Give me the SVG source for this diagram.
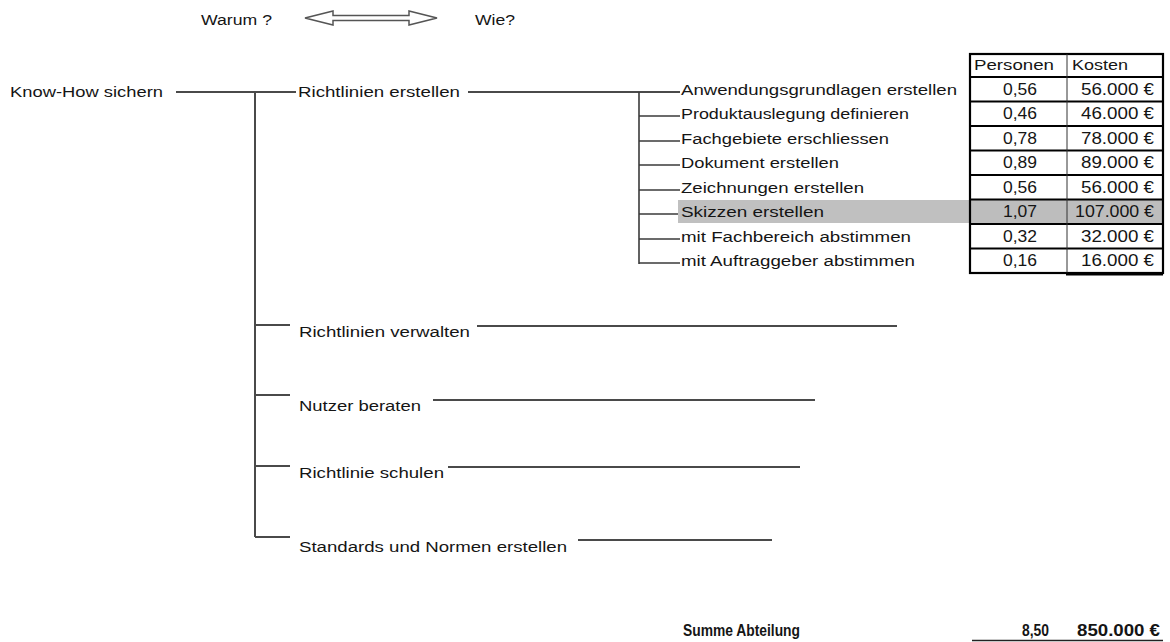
<svg xmlns="http://www.w3.org/2000/svg" width="1170" height="642" viewBox="0 0 1170 642">
<style>
text{font-family:"Liberation Sans",Arial,sans-serif;font-size:14px;fill:#151515}
text.b{font-weight:bold;font-size:16px}
.ln{stroke:#4a4a4a;stroke-width:2;fill:none}
.br{stroke:#3a3a3a;stroke-width:1.6;fill:none}
.tb{stroke:#000;stroke-width:2.2;fill:none}
.th{stroke:#333;stroke-width:1;fill:none}
text.num{font-size:16px}
</style>
<rect width="1170" height="642" fill="#fff"/>

<g id="header">
<text x="201" y="25" textLength="71" lengthAdjust="spacingAndGlyphs">Warum ?</text>
<polygon points="305,18 333,11 333,15.5 409,15.5 409,11 437,18 409,25 409,20.5 333,20.5 333,25" fill="#fff" stroke="#555" stroke-width="1.5"/>
<text x="475" y="25" textLength="40" lengthAdjust="spacingAndGlyphs">Wie?</text>
</g>

<g id="connectors">
<line class="ln" x1="176" y1="92" x2="296" y2="92"/>
<line class="ln" x1="255" y1="92" x2="255" y2="537"/>
<line class="ln" x1="468" y1="92" x2="680" y2="92"/>
<line class="br" x1="639" y1="92" x2="639" y2="264"/>
<line class="br" x1="639" y1="116" x2="680" y2="116"/>
<line class="br" x1="639" y1="141" x2="680" y2="141"/>
<line class="br" x1="639" y1="165" x2="680" y2="165"/>
<line class="br" x1="639" y1="190" x2="680" y2="190"/>
<line class="br" x1="639" y1="214" x2="680" y2="214"/>
<line class="br" x1="639" y1="239" x2="680" y2="239"/>
<line class="br" x1="639" y1="263" x2="680" y2="263"/>
<line class="ln" x1="255" y1="325" x2="290" y2="325"/>
<line class="ln" x1="477" y1="326" x2="897" y2="326"/>
<line class="ln" x1="255" y1="395" x2="290" y2="395"/>
<line class="ln" x1="433" y1="400" x2="815" y2="400"/>
<line class="ln" x1="255" y1="466" x2="290" y2="466"/>
<line class="ln" x1="448" y1="467" x2="800" y2="467"/>
<line class="ln" x1="255" y1="537" x2="290" y2="537"/>
<line class="ln" x1="578" y1="540" x2="772" y2="540"/>
</g>

<g id="node-root"><text x="10" y="97" textLength="153" lengthAdjust="spacingAndGlyphs">Know-How sichern</text></g>
<g id="node-richtlinien-erstellen"><text x="298" y="97" textLength="162" lengthAdjust="spacingAndGlyphs">Richtlinien erstellen</text></g>

<g id="highlight"><rect x="678" y="200" width="291" height="23" fill="#c0c0c0"/></g>

<g id="sub-items">
<text x="681" y="95" textLength="276" lengthAdjust="spacingAndGlyphs">Anwendungsgrundlagen erstellen</text>
<text x="681" y="119" textLength="228" lengthAdjust="spacingAndGlyphs">Produktauslegung definieren</text>
<text x="681" y="144" textLength="208" lengthAdjust="spacingAndGlyphs">Fachgebiete erschliessen</text>
<text x="681" y="168" textLength="158" lengthAdjust="spacingAndGlyphs">Dokument erstellen</text>
<text x="681" y="193" textLength="183" lengthAdjust="spacingAndGlyphs">Zeichnungen erstellen</text>
<text x="681" y="217" textLength="143" lengthAdjust="spacingAndGlyphs">Skizzen erstellen</text>
<text x="681" y="242" textLength="230" lengthAdjust="spacingAndGlyphs">mit Fachbereich abstimmen</text>
<text x="681" y="266" textLength="234" lengthAdjust="spacingAndGlyphs">mit Auftraggeber abstimmen</text>
</g>

<g id="node-verwalten"><text x="299" y="337" textLength="171" lengthAdjust="spacingAndGlyphs">Richtlinien verwalten</text></g>
<g id="node-beraten"><text x="299" y="411" textLength="122" lengthAdjust="spacingAndGlyphs">Nutzer beraten</text></g>
<g id="node-schulen"><text x="299" y="478" textLength="145" lengthAdjust="spacingAndGlyphs">Richtlinie schulen</text></g>
<g id="node-standards"><text x="299" y="552" textLength="268" lengthAdjust="spacingAndGlyphs">Standards und Normen erstellen</text></g>

<g id="table">
<rect x="970" y="200" width="193" height="24" fill="#bdbdbd"/>
<rect class="tb" x="970" y="54" width="193" height="219"/>
<line class="tb" x1="970" y1="77" x2="1163" y2="77"/>
<line class="tb" x1="970" y1="101.5" x2="1163" y2="101.5"/>
<line class="tb" x1="970" y1="126" x2="1163" y2="126"/>
<line class="tb" x1="970" y1="150.5" x2="1163" y2="150.5"/>
<line class="tb" x1="970" y1="175" x2="1163" y2="175"/>
<line class="tb" x1="970" y1="199.5" x2="1163" y2="199.5"/>
<line class="tb" x1="970" y1="224" x2="1163" y2="224"/>
<line class="tb" x1="970" y1="248.5" x2="1163" y2="248.5"/>
<line class="th" x1="1067" y1="54" x2="1067" y2="273"/>
<line stroke="#000" stroke-width="3" x1="1066" y1="274" x2="1163" y2="274"/>
<text x="974" y="70" textLength="80" lengthAdjust="spacingAndGlyphs">Personen</text>
<text x="1072" y="70" textLength="56" lengthAdjust="spacingAndGlyphs">Kosten</text>
<text class="num" x="1003" y="95" textLength="34" lengthAdjust="spacingAndGlyphs">0,56</text><text class="num" x="1081" y="95" textLength="73" lengthAdjust="spacingAndGlyphs">56.000 €</text>
<text class="num" x="1003" y="119" textLength="34" lengthAdjust="spacingAndGlyphs">0,46</text><text class="num" x="1081" y="119" textLength="73" lengthAdjust="spacingAndGlyphs">46.000 €</text>
<text class="num" x="1003" y="144" textLength="34" lengthAdjust="spacingAndGlyphs">0,78</text><text class="num" x="1081" y="144" textLength="73" lengthAdjust="spacingAndGlyphs">78.000 €</text>
<text class="num" x="1003" y="168" textLength="34" lengthAdjust="spacingAndGlyphs">0,89</text><text class="num" x="1081" y="168" textLength="73" lengthAdjust="spacingAndGlyphs">89.000 €</text>
<text class="num" x="1003" y="193" textLength="34" lengthAdjust="spacingAndGlyphs">0,56</text><text class="num" x="1081" y="193" textLength="73" lengthAdjust="spacingAndGlyphs">56.000 €</text>
<text class="num" x="1003" y="217" textLength="34" lengthAdjust="spacingAndGlyphs">1,07</text><text class="num" x="1075" y="217" textLength="79" lengthAdjust="spacingAndGlyphs">107.000 €</text>
<text class="num" x="1003" y="242" textLength="34" lengthAdjust="spacingAndGlyphs">0,32</text><text class="num" x="1081" y="242" textLength="73" lengthAdjust="spacingAndGlyphs">32.000 €</text>
<text class="num" x="1003" y="266" textLength="34" lengthAdjust="spacingAndGlyphs">0,16</text><text class="num" x="1081" y="266" textLength="73" lengthAdjust="spacingAndGlyphs">16.000 €</text>
</g>

<g id="summe">
<text class="b" x="683" y="636" textLength="117" lengthAdjust="spacingAndGlyphs">Summe Abteilung</text>
<text class="b" x="1022" y="636" textLength="27" lengthAdjust="spacingAndGlyphs">8,50</text>
<text class="b" x="1077" y="636" textLength="83" lengthAdjust="spacingAndGlyphs">850.000 €</text>
<line stroke="#222" stroke-width="1.5" x1="972" y1="640.5" x2="1163" y2="640.5"/>
</g>
</svg>
